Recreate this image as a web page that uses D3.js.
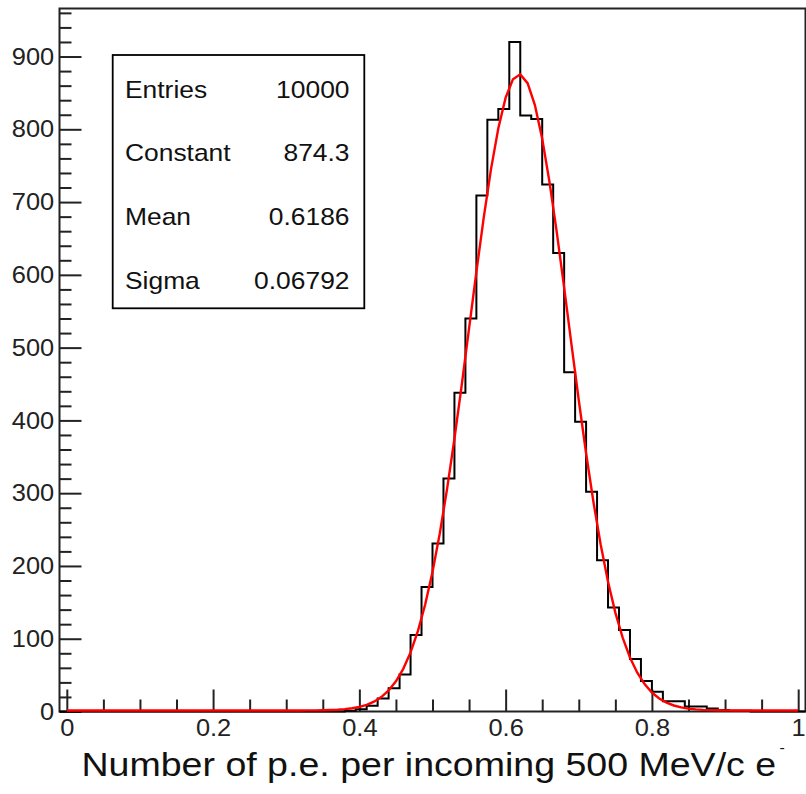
<!DOCTYPE html>
<html>
<head>
<meta charset="utf-8">
<script src="https://cdn.jsdelivr.net/npm/d3@7"></script>
<style>
  body { margin: 0; background: #fff; }
  svg { display: block; font-family: "Liberation Sans", Arial, Helvetica, sans-serif; }
</style>
</head>
<body>
<div id="chart"></div>
<script>
// binning of the histogram: 68 bins of 0.015 between -0.01 and 1.01
const xMin = -0.01, xMax = 1.01, binWidth = 0.015;
// bin contents
const counts = [
    0, 0, 0, 0, 0, 0, 0, 0, 0, 0,
    0, 0, 0, 0, 0, 0, 0, 0, 0, 0,
    0, 0, 0, 0, 0, 0, 1, 3, 8, 18,
    32, 51, 105, 171, 231, 320, 438, 540, 709, 813,
    828, 920, 819, 814, 724, 630, 466, 398, 302, 208,
    143, 112, 72, 42, 27, 14, 14, 7, 7, 4,
    2, 1, 1, 0, 0, 0, 0, 0
];

// stats box
const statNames = ["Entries", "Constant", "Mean", "Sigma"];
const statValues = ["10000", "874.3", "0.6186", "0.06792"];

// gaussian fit shown in red
const fitConstant = 874.3, fitMean = 0.6186, fitSigma = 0.06792;
const fitRange = [0, 1];
const fitPoints = 100;

const xTicks = [0, 0.2, 0.4, 0.6, 0.8, 1];
const xTickLabels = ["0", "0.2", "0.4", "0.6", "0.8", "1"];
const yTicks = [0, 100, 200, 300, 400, 500, 600, 700, 800, 900];
const yMax = 966;
const xTitle = "Number of p.e. per incoming 500 MeV/c e";

const width = 806, height = 794;
const frame = { left: 59.5, right: 805.5, top: 8.5, bottom: 711.5 };
const ink = "#222";

const svg = d3.select("#chart").append("svg")
    .attr("width", width)
    .attr("height", height);

const x = d3.scaleLinear().domain([xMin, xMax]).range([frame.left, frame.right]);
const y = d3.scaleLinear().domain([0, yMax]).range([frame.bottom, frame.top]);

// frame
svg.append("rect")
    .attr("x", frame.left).attr("y", frame.top)
    .attr("width", frame.right - frame.left)
    .attr("height", frame.bottom - frame.top)
    .attr("fill", "none")
    .attr("stroke", ink)
    .attr("stroke-width", 2);

// axes, ROOT style: ticks point inside the frame
function styleAxis(g) {
    g.select(".domain").remove();
    g.selectAll(".tick line").attr("stroke", ink).attr("stroke-width", 2);
    g.selectAll(".tick text")
        .attr("fill", ink)
        .attr("font-size", 24)
        .attr("font-family", "Liberation Sans, Arial, sans-serif");
}

const xMinor = d3.range(0, 1.0001, 0.05).filter(v => !xTicks.some(t => Math.abs(t - v) < 1e-6));
svg.append("g")
    .attr("transform", `translate(0,${frame.bottom})`)
    .call(d3.axisBottom(x).tickValues(xMinor).tickSizeInner(-12).tickFormat(""))
    .call(styleAxis);

svg.append("g")
    .attr("transform", `translate(0,${frame.bottom})`)
    .call(d3.axisBottom(x).tickValues(xTicks).tickSizeInner(-22).tickPadding(7)
        .tickFormat((d, i) => xTickLabels[i]))
    .call(styleAxis)
    .call(g => g.selectAll(".tick text").attr("transform", "scale(1.06,1)"));

const yMinor = d3.range(20, yMax, 20).filter(v => v % 100 !== 0);
svg.append("g")
    .attr("transform", `translate(${frame.left},0)`)
    .call(d3.axisLeft(y).tickValues(yMinor).tickSizeInner(-12).tickFormat(""))
    .call(styleAxis);

svg.append("g")
    .attr("transform", `translate(${frame.left},0)`)
    .call(d3.axisLeft(y).tickValues(yTicks).tickSizeInner(-22).tickPadding(5)
        .tickFormat(d3.format("d")))
    .call(styleAxis)
    .call(g => g.selectAll(".tick text").attr("transform", "scale(1.06,1)"));

// histogram outline
const steps = [[xMin, 0]];
counts.forEach((c, i) => {
    const lo = xMin + i * binWidth;
    steps.push([lo, c], [lo + binWidth, c]);
});
steps.push([xMax, 0]);

svg.append("path")
    .datum(steps)
    .attr("fill", "none")
    .attr("stroke", "#000")
    .attr("stroke-width", 2)
    .attr("stroke-linejoin", "miter")
    .attr("d", d3.line().x(d => x(d[0])).y(d => y(d[1])));

// fit curve from the displayed parameters
const fitData = d3.range(fitPoints + 1).map(i => {
    const v = fitRange[0] + (fitRange[1] - fitRange[0]) * i / fitPoints;
    return [v, fitConstant * Math.exp(-0.5 * ((v - fitMean) / fitSigma) ** 2)];
});

svg.append("path")
    .datum(fitData)
    .attr("fill", "none")
    .attr("stroke", "#ff0000")
    .attr("stroke-width", 2.4)
    .attr("d", d3.line().x(d => x(d[0])).y(d => y(d[1]) - 1));

// stats box
const box = { x: 112.7, y: 55, w: 251.6, h: 253.3 };
svg.append("rect")
    .attr("x", box.x).attr("y", box.y)
    .attr("width", box.w).attr("height", box.h)
    .attr("fill", "#fff")
    .attr("stroke", "#000")
    .attr("stroke-width", 1.8);

const rows = svg.append("g")
    .selectAll("g")
    .data(statNames)
    .join("g")
    .attr("transform", (d, i) => `translate(0,${97.5 + i * 63.7})`);

rows.append("text")
    .attr("transform", "translate(125,0) scale(1.1,1)")
    .attr("font-size", 24)
    .attr("fill", "#111")
    .text(d => d);

rows.append("text")
    .attr("transform", "translate(349.5,0) scale(1.1,1)")
    .attr("text-anchor", "end")
    .attr("font-size", 24)
    .attr("fill", "#111")
    .text((d, i) => statValues[i]);

// x axis title, right aligned to the axis end
const title = svg.append("text")
    .attr("font-size", 33)
    .attr("fill", "#111");
const main = title.append("tspan").text(xTitle);
const mainLen = main.node().getComputedTextLength();
const sx = 695 / mainLen;
title.attr("transform", `translate(81.5,776) scale(${sx},1)`);
title.append("tspan")
    .attr("font-size", 14)
    .attr("dx", 3)
    .attr("dy", -23)
    .text("-");
</script>
</body>
</html>
